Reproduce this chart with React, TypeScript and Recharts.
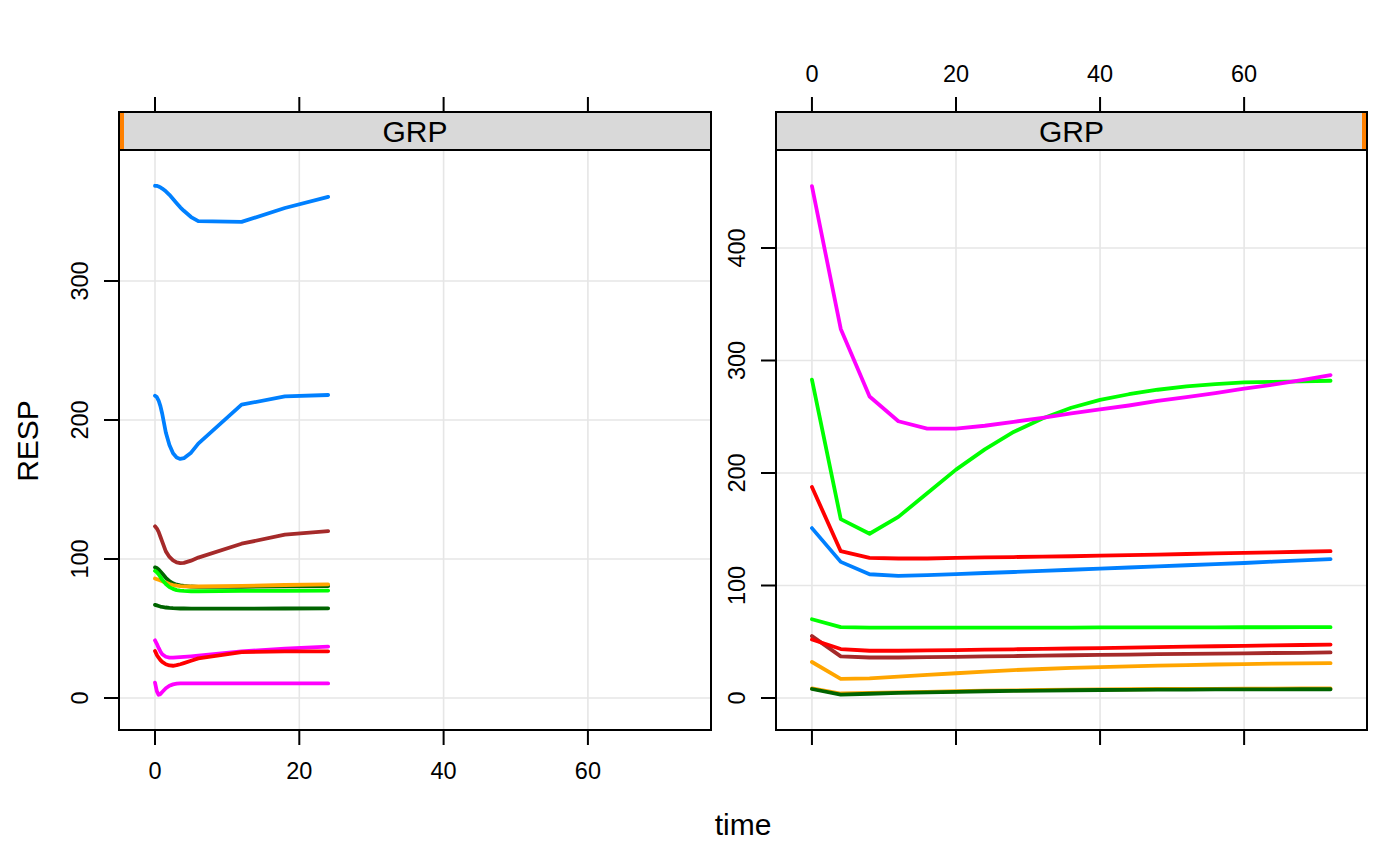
import { LineChart, Line, XAxis, YAxis, CartesianGrid } from "recharts";

// colours of lattice's superpose.line palette
const BLUE = "#0080ff";
const MAGENTA = "#ff00ff";
const DARKGREEN = "#006400";
const RED = "#ff0000";
const ORANGE = "#ffa500";
const GREEN = "#00ff00";
const BROWN = "#a52a2a";

const xTicks = [0, 20, 40, 60];
const leftYTicks = [0, 100, 200, 300];
const rightYTicks = [0, 100, 200, 300, 400];

// left panel: dense sampling early, then every 6 h
const leftTimes = [0, 0.25, 0.5, 0.75, 1, 1.5, 2, 2.5, 3, 3.5, 4, 5, 6, 12, 18, 24];
const leftBlueA = [368.5, 368.4, 368, 367.3, 366.5, 364.5, 362, 359, 356, 353, 350.5, 346, 343, 342.5, 352.5, 360.5];
const leftMagentaA = [41.5, 39, 36, 33.5, 31.5, 29.7, 29, 29, 29.2, 29.4, 29.6, 30, 30.5, 33.5, 35.5, 37];
const leftDarkGreenA = [94, 93.5, 92.5, 91, 89.5, 86.5, 84, 82.5, 81.5, 81, 80.6, 80.2, 80, 80, 80.3, 80.5];
const leftRed = [33.8, 31, 29, 27.3, 26, 24.3, 23.4, 23.2, 23.6, 24.3, 25.1, 26.8, 28.5, 33, 33.5, 33.6];
const leftOrange = [86, 85.5, 85, 84.5, 84, 83, 82, 81.3, 80.8, 80.5, 80.3, 80.2, 80.2, 80.6, 81.3, 81.8];
const leftGreen = [91.5, 90.5, 89, 87, 85, 82, 79.8, 78.5, 77.6, 77.2, 77, 76.8, 76.8, 77, 77.1, 77.3];
const leftBrown = [123.5, 122, 119.5, 116, 112.5, 105.5, 101.5, 99, 97.5, 97, 97.2, 98.8, 101, 111, 117.5, 120];
const leftBlueB = [217.5, 216.5, 214, 210, 204.5, 191, 182, 176, 173, 172, 172.5, 176.5, 183, 211, 217, 218];
const leftMagentaB = [11, 5, 2.3, 2.8, 4.3, 7, 8.8, 9.8, 10.3, 10.5, 10.5, 10.5, 10.5, 10.5, 10.5, 10.5];
const leftDarkGreenB = [67, 66.6, 66.2, 65.8, 65.5, 65.1, 64.8, 64.6, 64.5, 64.4, 64.4, 64.3, 64.3, 64.3, 64.4, 64.5];

// right panel: every 4 h up to 72 h
const rightTimes = [0, 4, 8, 12, 16, 20, 24, 28, 32, 36, 40, 44, 48, 52, 56, 60, 64, 68, 72];
const rightRedA = [187.5, 130.5, 124.5, 124, 124, 124.5, 125, 125.3, 125.7, 126, 126.5, 127, 127.5, 128, 128.5, 129, 129.5, 130, 130.5];
const rightOrangeA = [8.5, 4, 4.5, 5, 5.5, 6, 6.5, 6.8, 7.1, 7.4, 7.6, 7.8, 8, 8.1, 8.2, 8.3, 8.4, 8.5, 8.5];
const rightGreenA = [283, 159, 146, 161, 182, 203, 221, 236.5, 248.5, 258, 265, 270, 274, 277, 279, 280.5, 281, 281.5, 282];
const rightBrown = [55, 37, 36, 36, 36.3, 36.6, 37, 37.3, 37.6, 38, 38.3, 38.6, 39, 39.2, 39.5, 39.7, 40, 40.2, 40.5];
const rightBlue = [151, 121, 110, 108.5, 109.3, 110.2, 111.1, 112, 113, 114, 115, 116, 117, 118, 119, 120, 121.2, 122.3, 123.5];
const rightMagenta = [455, 328, 268, 246, 239.5, 239.5, 242, 245.5, 249, 253, 256.5, 260, 264, 267.5, 271, 275, 278.5, 282.5, 287];
const rightDarkGreen = [8, 3, 3.8, 4.5, 5, 5.5, 6, 6.3, 6.6, 6.9, 7.1, 7.3, 7.4, 7.5, 7.6, 7.7, 7.7, 7.8, 7.8];
const rightRedB = [52, 43.5, 42, 42, 42.3, 42.6, 43, 43.3, 43.7, 44, 44.4, 44.8, 45.2, 45.6, 46, 46.4, 46.8, 47.1, 47.5];
const rightOrangeB = [32, 17, 17.5, 19, 20.5, 22, 23.5, 24.8, 25.8, 26.8, 27.5, 28.2, 28.8, 29.3, 29.8, 30.2, 30.5, 30.8, 31];
const rightGreenB = [70, 63, 62.5, 62.5, 62.5, 62.5, 62.5, 62.5, 62.6, 62.6, 62.7, 62.7, 62.8, 62.8, 62.8, 62.9, 62.9, 63, 63];

const toRows = (times: number[], values: number[]) =>
  times.map((time, i) => ({ time, resp: values[i] }));

const leftSeries = [
  { id: "l1", color: BLUE, values: leftBlueA },
  { id: "l2", color: MAGENTA, values: leftMagentaA },
  { id: "l3", color: DARKGREEN, values: leftDarkGreenA },
  { id: "l4", color: RED, values: leftRed },
  { id: "l5", color: ORANGE, values: leftOrange },
  { id: "l6", color: GREEN, values: leftGreen },
  { id: "l7", color: BROWN, values: leftBrown },
  { id: "l8", color: BLUE, values: leftBlueB },
  { id: "l9", color: MAGENTA, values: leftMagentaB },
  { id: "l10", color: DARKGREEN, values: leftDarkGreenB },
];

const rightSeries = [
  { id: "r1", color: RED, values: rightRedA },
  { id: "r2", color: ORANGE, values: rightOrangeA },
  { id: "r3", color: GREEN, values: rightGreenA },
  { id: "r4", color: BROWN, values: rightBrown },
  { id: "r5", color: BLUE, values: rightBlue },
  { id: "r6", color: MAGENTA, values: rightMagenta },
  { id: "r7", color: DARKGREEN, values: rightDarkGreen },
  { id: "r8", color: RED, values: rightRedB },
  { id: "r9", color: ORANGE, values: rightOrangeB },
  { id: "r10", color: GREEN, values: rightGreenB },
];

const FONT = "'Liberation Sans', Arial, Helvetica, sans-serif";
const TICK_FONT = 23.5;
const LABEL_FONT = 30;
const W = 1400;
const H = 866;
const PANEL_TOP = 150;
const PANEL_BOTTOM = 730;
const STRIP_TOP = 112;
const TCK = 15;
const X_DOMAIN = [-4.99, 77.06];

// bottom + top tick marks, label on one side only
const xTick = (labelOnTop: boolean) => (props: any) => {
  const { x, payload } = props;
  return (
    <g>
      <line x1={x} x2={x} y1={PANEL_BOTTOM} y2={PANEL_BOTTOM + TCK} stroke="#000" strokeWidth={2} />
      <line x1={x} x2={x} y1={STRIP_TOP - TCK} y2={STRIP_TOP} stroke="#000" strokeWidth={2} />
      <text
        x={x}
        y={labelOnTop ? 74 : 771}
        dy="0.35em"
        textAnchor="middle"
        fontFamily={FONT}
        fontSize={TICK_FONT}
        fill="#000"
      >
        {payload.value}
      </text>
    </g>
  );
};

const yTick = (axisX: number) => (props: any) => {
  const { y, payload } = props;
  const lx = axisX - 39;
  return (
    <g>
      <line x1={axisX - TCK} x2={axisX} y1={y} y2={y} stroke="#000" strokeWidth={2} />
      <text
        x={lx}
        y={y}
        dy="0.35em"
        textAnchor="middle"
        transform={`rotate(-90, ${lx}, ${y})`}
        fontFamily={FONT}
        fontSize={TICK_FONT}
        fill="#000"
      >
        {payload.value}
      </text>
    </g>
  );
};

type Panel = {
  left: number;
  right: number;
  yDomain: number[];
  yTicks: number[];
  series: { id: string; color: string; values: number[] }[];
  times: number[];
  labelOnTop: boolean;
};

const PanelChart = ({ p }: { p: Panel }) => (
  <div style={{ position: "absolute", left: 0, top: 0 }}>
    <LineChart
      width={W}
      height={H}
      margin={{ top: PANEL_TOP, left: p.left - 60, right: W - p.right, bottom: H - PANEL_BOTTOM - 40 }}
    >
      <CartesianGrid stroke="#e6e6e6" strokeWidth={1.6} />
      <XAxis
        dataKey="time"
        type="number"
        domain={X_DOMAIN}
        allowDataOverflow
        ticks={xTicks}
        height={40}
        axisLine={false}
        tickLine={false}
        tick={xTick(p.labelOnTop)}
      />
      <YAxis
        type="number"
        domain={p.yDomain}
        allowDataOverflow
        ticks={p.yTicks}
        width={60}
        axisLine={false}
        tickLine={false}
        tick={yTick(p.left)}
      />
      {p.series.map((s) => (
        <Line
          key={s.id}
          data={toRows(p.times, s.values)}
          dataKey="resp"
          type="linear"
          stroke={s.color}
          strokeWidth={3.8}
          strokeLinejoin="round"
          strokeLinecap="round"
          dot={false}
          activeDot={false}
          isAnimationActive={false}
        />
      ))}
    </LineChart>
  </div>
);

const leftPanel: Panel = {
  left: 119,
  right: 711,
  yDomain: [-23.02, 394.24],
  yTicks: leftYTicks,
  series: leftSeries,
  times: leftTimes,
  labelOnTop: false,
};

const rightPanel: Panel = {
  left: 776,
  right: 1367,
  yDomain: [-28.44, 487.1],
  yTicks: rightYTicks,
  series: rightSeries,
  times: rightTimes,
  labelOnTop: true,
};

const Frame = ({ p, barLeft }: { p: Panel; barLeft: boolean }) => {
  const w = p.right - p.left;
  const mid = (p.left + p.right) / 2;
  return (
    <g>
      <rect x={p.left} y={PANEL_TOP} width={w} height={PANEL_BOTTOM - PANEL_TOP} fill="none" stroke="#000" strokeWidth={2} />
      <rect x={p.left} y={STRIP_TOP} width={w} height={PANEL_TOP - STRIP_TOP} fill="#d9d9d9" stroke="#000" strokeWidth={2} />
      <rect
        x={barLeft ? p.left + 1 : p.right - 5}
        y={STRIP_TOP + 1}
        width={4}
        height={PANEL_TOP - STRIP_TOP - 2}
        fill="#ff8000"
      />
      <text x={mid} y={(STRIP_TOP + PANEL_TOP) / 2} dy="0.36em" textAnchor="middle" fontFamily={FONT} fontSize={LABEL_FONT}>
        GRP
      </text>
    </g>
  );
};

export default function App() {
  return (
    <div style={{ position: "absolute", left: 0, top: 0, width: W, height: H, background: "#fff" }}>
      <PanelChart p={leftPanel} />
      <PanelChart p={rightPanel} />
      <svg width={W} height={H} style={{ position: "absolute", left: 0, top: 0, pointerEvents: "none" }}>
        <Frame p={leftPanel} barLeft />
        <Frame p={rightPanel} barLeft={false} />
        <text
          x={27}
          y={441}
          dy="0.36em"
          textAnchor="middle"
          transform="rotate(-90, 27, 441)"
          fontFamily={FONT}
          fontSize={LABEL_FONT}
        >
          RESP
        </text>
        <text x={743} y={824} dy="0.36em" textAnchor="middle" fontFamily={FONT} fontSize={LABEL_FONT}>
          time
        </text>
      </svg>
    </div>
  );
}
